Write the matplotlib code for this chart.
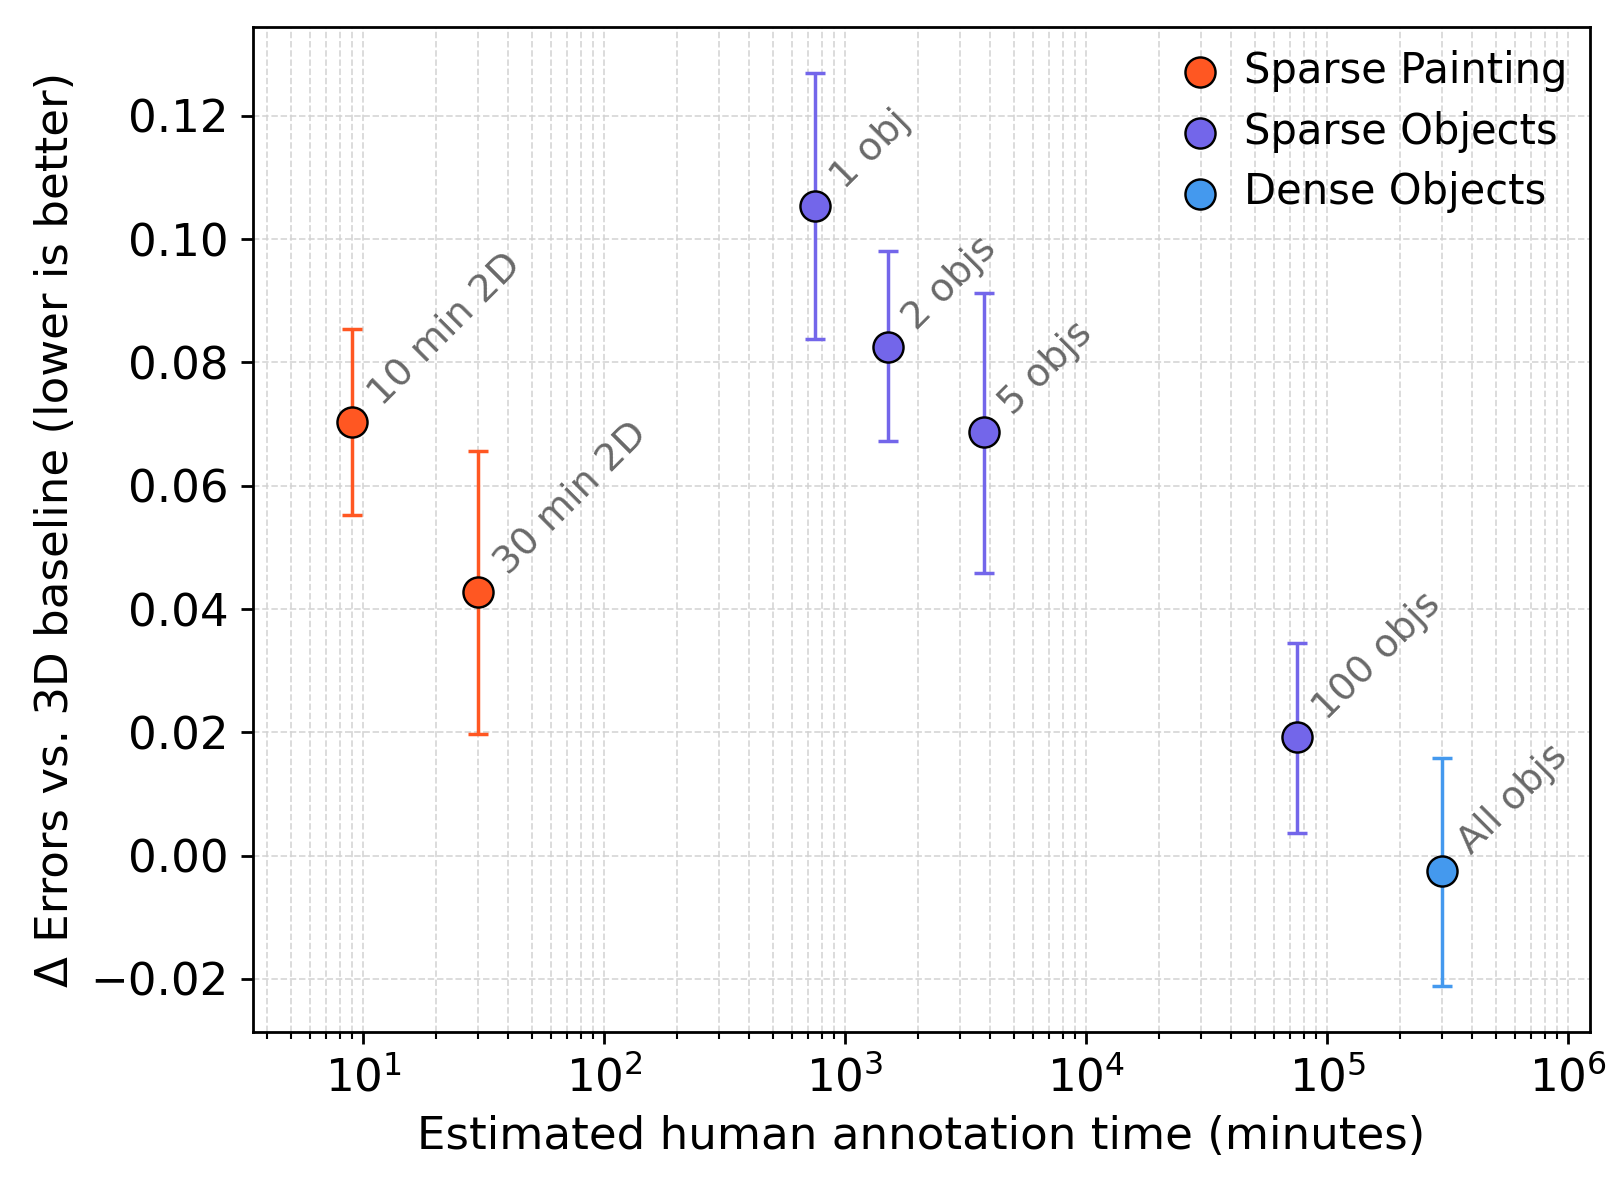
import matplotlib
matplotlib.use("Agg")
import matplotlib.pyplot as plt
import numpy as np

# Données
groupes = ["Sparse Painting", "Sparse Objects", "Dense Objects"]
couleurs = ["#FF5722", "#7366EA", "#4499EE"]

paint_x = [9, 30]
paint_y = [0.0703, 0.0428]
paint_lo = [0.0552, 0.0198]
paint_hi = [0.0855, 0.0657]
paint_lbl = ["10 min 2D", "30 min 2D"]

obj_x = [750, 1500, 3750, 75000]
obj_y = [0.1053, 0.0825, 0.0687, 0.0192]
obj_lo = [0.0838, 0.0672, 0.0458, 0.0037]
obj_hi = [0.1270, 0.0980, 0.0913, 0.0345]
obj_lbl = ["1 obj", "2 objs", "5 objs", "100 objs"]

dense_x = [300000]
dense_y = [-0.0025]
dense_lo = [-0.0212]
dense_hi = [0.0158]
dense_lbl = ["All objs"]

series = [
    (paint_x, paint_y, paint_lo, paint_hi, paint_lbl),
    (obj_x, obj_y, obj_lo, obj_hi, obj_lbl),
    (dense_x, dense_y, dense_lo, dense_hi, dense_lbl),
]

fig = plt.figure(figsize=(6.452, 4.764), dpi=250)
ax = fig.add_axes([0.157, 0.1335, 0.8287, 0.8438])

for nome, cor, (xs, ys, lo, hi, lbls) in zip(groupes, couleurs, series):
    ys = np.array(ys)
    yerr = [ys - np.array(lo), np.array(hi) - ys]
    ax.errorbar(xs, ys, yerr=yerr, fmt="none", ecolor=cor, elinewidth=1.0,
                capsize=3, capthick=1.0, zorder=2)
    ax.scatter(xs, ys, s=75, color=cor, edgecolor="black", linewidth=0.7,
               label=nome, zorder=3)
    for x, y, t in zip(xs, ys, lbls):
        ax.annotate(t, (x, y), xytext=(10, 3), textcoords="offset points",
                    rotation=45, rotation_mode="anchor", ha="left", va="bottom",
                    fontsize=11, color="dimgray")

ax.set_xscale("log")
ax.set_xlim(3.5, 1.23e6)
ax.grid(True, which="both", linestyle="--", color="lightgray", linewidth=0.5, alpha=0.9)
ax.set_axisbelow(True)
ax.tick_params(labelsize=13)
ax.set_xlabel("Estimated human annotation time (minutes)", fontsize=13)
ax.set_ylabel("Δ Errors vs. 3D baseline (lower is better)", fontsize=13)
ax.legend(loc="upper right", frameon=False, fontsize=12, handlelength=1.4,
          handletextpad=0.35, labelspacing=0.45, borderaxespad=0.15)

fig.savefig("out.png", dpi=250)
